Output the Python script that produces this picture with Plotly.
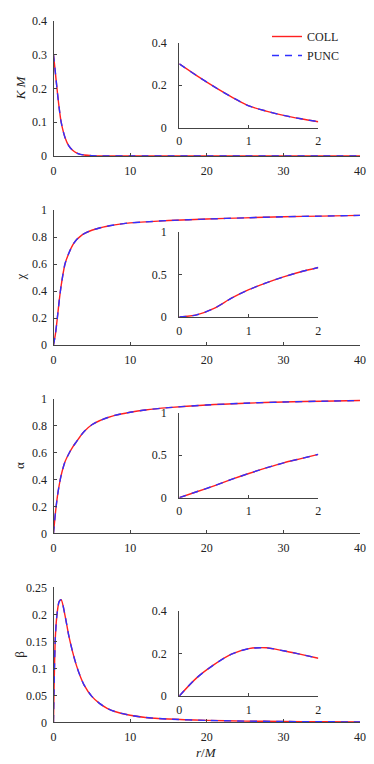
import plotly.graph_objects as go

W, H = 374, 764

# ---- data ----
# main panels, r/M from 0 to 40
r_main = [0, 0.25, 0.5, 0.75, 1, 1.5, 2, 2.5, 3, 3.5, 4, 5, 6, 7, 8, 10, 12, 15, 20, 25, 30, 35, 40]
K_main = [0.30, 0.245, 0.19, 0.14, 0.10, 0.055, 0.03, 0.017, 0.009, 0.005, 0.003, 0.001, 0.0003,
          0.0001, 0, 0, 0, 0, 0, 0, 0, 0, 0]
chi_main = [0, 0.08, 0.2, 0.33, 0.44, 0.6, 0.68, 0.74, 0.78, 0.805, 0.825, 0.85, 0.867, 0.88,
            0.89, 0.905, 0.912, 0.922, 0.933, 0.942, 0.95, 0.955, 0.96]
alpha_main = [0, 0.15, 0.27, 0.36, 0.43, 0.53, 0.59, 0.64, 0.68, 0.72, 0.755, 0.805, 0.835, 0.857,
              0.875, 0.898, 0.915, 0.932, 0.952, 0.965, 0.974, 0.98, 0.985]
beta_main = [0, 0.16, 0.205, 0.224, 0.227, 0.198, 0.16, 0.13, 0.105, 0.085, 0.069, 0.048, 0.035,
             0.026, 0.02, 0.013, 0.009, 0.006, 0.0035, 0.0022, 0.0015, 0.001, 0.0007]

# insets, r/M from 0 to 2
r_ins = [0, 0.25, 0.5, 0.75, 1, 1.25, 1.5, 1.75, 2]
K_ins = [0.30, 0.245, 0.193, 0.145, 0.103, 0.078, 0.058, 0.042, 0.028]
chi_ins = [0, 0.025, 0.10, 0.22, 0.32, 0.40, 0.47, 0.53, 0.58]
alpha_ins = [0, 0.07, 0.14, 0.215, 0.285, 0.35, 0.41, 0.46, 0.51]
beta_ins = [0, 0.085, 0.147, 0.196, 0.222, 0.226, 0.212, 0.195, 0.177]

series_names = ["COLL", "PUNC"]
y_titles = ["<i>K M</i>", "χ", "α", "β"]
main_ranges = [[0, 0.4], [0, 1], [0, 1], [0, 0.25]]
main_dticks = [0.1, 0.2, 0.2, 0.05]
ins_ranges = [[0, 0.4], [0, 1], [0, 1], [0, 0.4]]
ins_dticks = [0.2, 0.5, 0.5, 0.2]

main_data = [K_main, chi_main, alpha_main, beta_main]
ins_data = [K_ins, chi_ins, alpha_ins, beta_ins]

# pixel boxes (top, bottom) of each main panel / inset in the reference
main_px = [(20.7, 156), (210, 345), (398.5, 533.3), (587.3, 722.3)]
ins_px = [(42.7, 127.7), (231.7, 317), (412.7, 497.7), (610.7, 696)]
main_x_px = (53.5, 360)
ins_x_px = (179.3, 318.3)

FONT = "Liberation Serif, Times New Roman, serif"
AX = "#444444"
RED = "#ff2020"
BLUE = "#3030ff"


def px(x):
    return x / W


def py(y):
    return 1 - y / H


def ydom(top, bot):
    return [py(bot), py(top)]


fig = go.Figure()
layout = {}
for i in range(4):
    m = 2 * i + 1
    n = 2 * i + 2
    for nm, col, dash in [(series_names[0], RED, "solid"), (series_names[1], BLUE, "7px,6px")]:
        fig.add_trace(go.Scatter(x=r_main, y=main_data[i], mode="lines", name=nm,
                                 line=dict(color=col, width=1.4, dash=dash, shape="spline", smoothing=0.8),
                                 xaxis=f"x{m}", yaxis=f"y{m}", showlegend=(i == 0)))
        fig.add_trace(go.Scatter(x=r_ins, y=ins_data[i], mode="lines", name=nm,
                                 line=dict(color=col, width=1.4, dash=dash, shape="spline", smoothing=0.8),
                                 xaxis=f"x{n}", yaxis=f"y{n}", showlegend=False))

    # automargin off: the default template would otherwise shrink the plot area
    common = dict(showgrid=False, zeroline=False, showline=True, linecolor=AX, linewidth=1.2,
                  ticks="inside", ticklen=3, tickcolor=AX, tickwidth=1, automargin=False,
                  tickfont=dict(family=FONT, size=12, color="#222"))
    layout[f"xaxis{m}"] = dict(domain=[px(main_x_px[0]), px(main_x_px[1])], anchor=f"y{m}",
                               range=[0, 40], dtick=10, ticklabelstandoff=3, **common)
    layout[f"yaxis{m}"] = dict(domain=ydom(*main_px[i]), anchor=f"x{m}",
                               range=main_ranges[i], dtick=main_dticks[i], ticklabelstandoff=3, **common)
    layout[f"xaxis{n}"] = dict(domain=[px(ins_x_px[0]), px(ins_x_px[1])], anchor=f"y{n}",
                               range=[0, 2], dtick=1, ticklabelstandoff=2, **common)
    layout[f"yaxis{n}"] = dict(domain=ydom(*ins_px[i]), anchor=f"x{n}",
                               range=ins_ranges[i], dtick=ins_dticks[i], ticklabelstandoff=9, **common)

annotations = []
for i in range(4):
    top, bot = main_px[i]
    annotations.append(dict(text=y_titles[i], x=px(20), y=py((top + bot) / 2),
                            xref="paper", yref="paper", xanchor="center", yanchor="middle",
                            showarrow=False, textangle=-90,
                            font=dict(family=FONT, size=13, color="#222")))
annotations.append(dict(text="<i>r</i>/<i>M</i>", x=px(206), y=py(752), xref="paper", yref="paper",
                        xanchor="center", yanchor="middle", showarrow=False,
                        font=dict(family=FONT, size=13, color="#222")))

fig.update_layout(
    width=W, height=H,
    margin=dict(l=0, r=0, t=0, b=0, autoexpand=False),
    paper_bgcolor="white", plot_bgcolor="white",
    annotations=annotations,
    legend=dict(x=px(267), y=py(22), xanchor="left", yanchor="top",
                bgcolor="rgba(0,0,0,0)", font=dict(family=FONT, size=12, color="#222"),
                tracegroupgap=0, itemwidth=30),
    **layout,
)

# drop the page's default body margin so the figure sits at the window origin
fig.write_html("out.html", config={"displayModeBar": False},
               post_script="document.body.style.margin='0px';document.body.style.overflow='hidden';")
